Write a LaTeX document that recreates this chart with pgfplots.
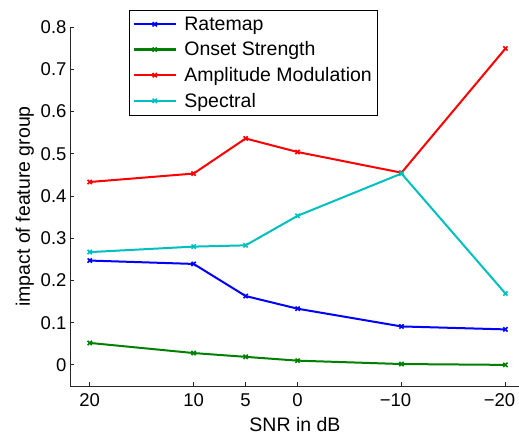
\documentclass[border=0pt]{standalone}
\usepackage{pgfplots}
\pgfplotsset{compat=1.18}
\usepackage{fontspec}
\setmainfont{Liberation Sans}

\definecolor{mblue}{rgb}{0,0,1}
\definecolor{mgreen}{rgb}{0,0.5,0}
\definecolor{mred}{rgb}{1,0,0}
\definecolor{mcyan}{rgb}{0,0.75,0.75}
\definecolor{axgray}{rgb}{0.15,0.15,0.15}

\begin{document}
\begin{tikzpicture}
\begin{axis}[
  scale only axis, width=450pt, height=359pt,
  x dir=reverse,
  xmin=-21.4, xmax=21.9,
  ymin=-0.05, ymax=0.8,
  axis x line*=bottom, axis y line*=left,
  axis line style={axgray, line width=0.8pt},
  tick align=inside, major tick length=4pt,
  tick style={axgray, line width=0.8pt},
  xtick={20,10,5,0,-10,-20},
  xticklabels={20,10,5,0,−10\hbox to 12pt{},−20\hbox to 12pt{}},
  ytick={0,0.1,0.2,0.3,0.4,0.5,0.6,0.7,0.8},
  yticklabels={0,0.1,0.2,0.3,0.4,0.5,0.6,0.7,0.8},
  /pgf/number format/assume math mode=true,
  ticklabel style={font=\fontsize{18.5}{20}\selectfont},
  xticklabel style={yshift=-4pt},
  label style={font=\fontsize{19.5}{21}\selectfont},
  xlabel style={yshift=-4pt},
  xlabel={SNR in dB},
  ylabel={impact of feature group},
  legend style={at={(axis description cs:0.131,1.047)}, anchor=north west,
    draw=black, font=\fontsize{19.5}{21}\selectfont,
    inner xsep=3.5pt, inner ysep=5pt, row sep=7pt,
    nodes={inner sep=1.5pt}},
  legend cell align=left,
  legend image code/.code={\draw[mark repeat=2,mark phase=2] plot coordinates {(0pt,0pt) (21pt,0pt) (42pt,0pt)}; \path (48pt,0pt);},
  legend image post style={line width=2.2pt},
  every axis plot/.append style={line width=2pt, mark=x, mark size=3pt, mark options={solid, line width=1.6pt}},
]
\addplot[mblue] coordinates {(20,0.247) (10,0.239) (5,0.163) (0,0.133) (-10,0.091) (-20,0.084)};
\addlegendentry{Ratemap}
\addplot[mgreen] coordinates {(20,0.052) (10,0.028) (5,0.019) (0,0.010) (-10,0.002) (-20,0.000)};
\addlegendentry{Onset Strength}
\addplot[mred] coordinates {(20,0.433) (10,0.453) (5,0.536) (0,0.504) (-10,0.455) (-20,0.749)};
\addlegendentry{Amplitude Modulation}
\addplot[mcyan] coordinates {(20,0.267) (10,0.280) (5,0.283) (0,0.353) (-10,0.453) (-20,0.169)};
\addlegendentry{Spectral}
\end{axis}
\pgfresetboundingbox
\path[use as bounding box] ([shift={(-70pt,-49pt)}]current axis.south west) rectangle ([shift={(449pt,386pt)}]current axis.south west);
\end{tikzpicture}
\end{document}
